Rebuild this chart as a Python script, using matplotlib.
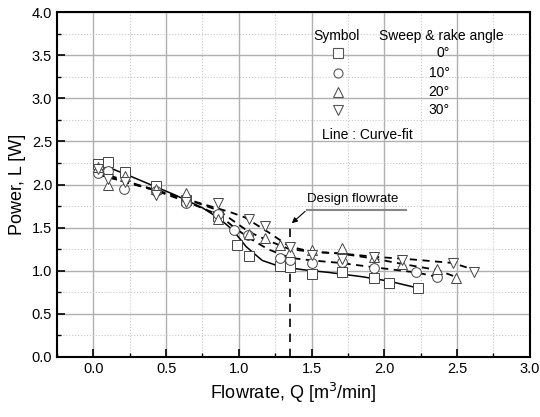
import matplotlib.pyplot as plt
from matplotlib.ticker import MultipleLocator

plt.rcParams['font.family'] = ['Liberation Sans', 'DejaVu Sans']

q_0 = [0.03, 0.10, 0.22, 0.43, 0.64, 0.86, 0.99, 1.07, 1.28, 1.35, 1.50, 1.71, 1.93, 2.03, 2.23]
p_0 = [2.24, 2.26, 2.14, 1.98, 1.82, 1.64, 1.30, 1.17, 1.05, 1.04, 0.96, 0.98, 0.92, 0.86, 0.80]

q_10 = [0.03, 0.10, 0.21, 0.43, 0.64, 0.86, 0.97, 1.06, 1.28, 1.35, 1.50, 1.71, 1.93, 2.22, 2.36]
p_10 = [2.13, 2.16, 1.95, 1.93, 1.78, 1.66, 1.47, 1.41, 1.15, 1.12, 1.09, 1.10, 1.03, 0.98, 0.93]

q_20 = [0.03, 0.10, 0.22, 0.43, 0.64, 0.86, 1.07, 1.18, 1.28, 1.35, 1.50, 1.71, 1.93, 2.12, 2.36, 2.49]
p_20 = [2.20, 2.00, 2.10, 1.95, 1.90, 1.60, 1.43, 1.38, 1.30, 1.22, 1.24, 1.26, 1.16, 1.08, 1.02, 0.92]

q_30 = [0.03, 0.10, 0.22, 0.43, 0.64, 0.86, 1.07, 1.18, 1.35, 1.50, 1.71, 1.93, 2.12, 2.47, 2.62]
p_30 = [2.18, 2.06, 2.03, 1.88, 1.80, 1.78, 1.60, 1.52, 1.27, 1.18, 1.14, 1.16, 1.12, 1.09, 0.99]

# curve-fit lines
fq_0 = [0.03, 0.25, 0.56, 0.75, 0.87, 0.96, 1.05, 1.16, 1.28, 1.45, 1.62, 1.85, 2.03, 2.23]
fp_0 = [2.25, 2.10, 1.88, 1.73, 1.60, 1.47, 1.28, 1.12, 1.05, 1.01, 0.98, 0.93, 0.88, 0.80]

fq_10 = [0.03, 0.43, 0.64, 0.86, 0.97, 1.07, 1.20, 1.35, 1.50, 1.70, 1.93, 2.22, 2.36]
fp_10 = [2.12, 1.93, 1.80, 1.65, 1.50, 1.38, 1.25, 1.15, 1.12, 1.09, 1.04, 0.98, 0.93]

fq_20 = [0.03, 0.43, 0.64, 0.86, 1.07, 1.20, 1.35, 1.50, 1.70, 1.93, 2.12, 2.36, 2.49]
fp_20 = [2.12, 1.93, 1.83, 1.70, 1.45, 1.35, 1.25, 1.22, 1.20, 1.14, 1.08, 1.01, 0.93]

fq_30 = [0.03, 0.30, 0.64, 0.94, 1.04, 1.20, 1.35, 1.50, 1.70, 1.95, 2.20, 2.47, 2.62]
fp_30 = [2.15, 2.00, 1.83, 1.68, 1.62, 1.45, 1.28, 1.22, 1.20, 1.16, 1.13, 1.09, 1.01]

angles = ['0°', '10°', '20°', '30°']
symbols = ['s', 'o', '^', 'v']
design_q = 1.35

fig = plt.figure(figsize=(5.4, 4.17), dpi=100)
ax = fig.add_axes([0.1056, 0.144, 0.8754, 0.827])

ax.plot(fq_0, fp_0, color='black', lw=1.1, zorder=3)
for fq, fp in [(fq_10, fp_10), (fq_20, fp_20), (fq_30, fp_30)]:
    ax.plot(fq, fp, color='black', lw=1.3, ls=(0, (4, 3)), zorder=3)

mk = dict(ls='none', mfc='white', mec='#444444', mew=0.7, ms=7, zorder=4)
for q, p, s in zip([q_0, q_10, q_20, q_30], [p_0, p_10, p_20, p_30], symbols):
    ax.plot(q, p, marker=s, **mk)

# design flowrate marker
ax.plot([design_q, design_q], [0, 1.53], color='black', lw=1.2, ls=(0, (5, 4)), zorder=3)
ax.annotate('', xy=(design_q, 1.53), xytext=(1.47, 1.71),
            arrowprops=dict(arrowstyle='-|>', color='black', lw=0.8, mutation_scale=8))
ax.plot([1.47, 2.15], [1.71, 1.71], color='#888888', lw=1.5)
ax.text(1.47, 1.76, 'Design flowrate', fontsize=9.5, va='bottom', ha='left')

# symbol table in the upper right
ax.text(1.67, 3.72, 'Symbol', fontsize=10, ha='center', va='center')
ax.text(2.39, 3.72, 'Sweep & rake angle', fontsize=10, ha='center', va='center')
rows = [3.52, 3.29, 3.07, 2.86]
for r, s, a in zip(rows, symbols, angles):
    ax.plot([1.68], [r], marker=s, ls='none', mfc='white', mec='#555555', mew=0.8, ms=6.5)
    ax.text(2.45, r, a, fontsize=10, ha='right', va='center')
ax.text(1.575, 2.57, 'Line : Curve-fit', fontsize=10, ha='left', va='center')

ax.set_xlim(-0.25, 3.0)
ax.set_ylim(0.0, 4.0)
ax.xaxis.set_major_locator(MultipleLocator(0.5))
ax.xaxis.set_minor_locator(MultipleLocator(0.25))
ax.yaxis.set_major_locator(MultipleLocator(0.5))
ax.yaxis.set_minor_locator(MultipleLocator(0.25))
ax.grid(which='major', color='#b0b0b0', lw=1.0, ls='-')
ax.grid(which='minor', color='#c8c8c8', lw=0.8, ls=':')
ax.set_axisbelow(True)
ax.tick_params(which='both', direction='in', labelsize=10.5)
ax.tick_params(which='major', length=6, width=1.2)
ax.tick_params(which='minor', length=3, width=1.0)
for sp in ax.spines.values():
    sp.set_linewidth(1.5)

ax.set_xlabel('Flowrate, Q [m$^3$/min]', fontsize=13)
ax.set_ylabel('Power, L [W]', fontsize=13)

fig.savefig('out.png', dpi=100)
